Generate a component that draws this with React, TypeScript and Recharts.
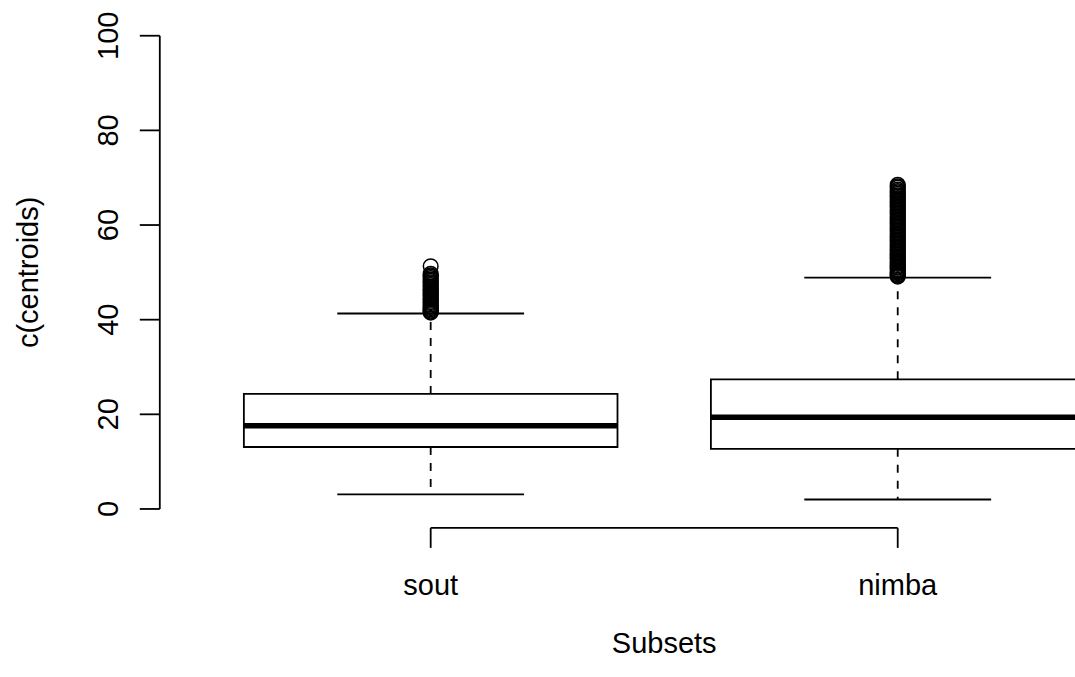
import React from "react";
import {
  ComposedChart,
  XAxis,
  YAxis,
  Scatter,
  ReferenceArea,
  ReferenceLine,
} from "recharts";

// five-number summaries per subset
const subsets = ["sout", "nimba"];
const lowerWhisker = [3.1, 2.0];
const q1 = [13.1, 12.7];
const medians = [17.6, 19.4];
const q3 = [24.3, 27.4];
const upperWhisker = [41.3, 48.9];

// points beyond the upper whisker
const soutOutliers = [
  41.5, 41.7, 41.9, 42.2, 42.4, 42.7, 42.9, 43.2, 43.5, 43.7, 44.0, 44.3,
  44.5, 44.8, 45.1, 45.3, 45.6, 45.9, 46.2, 46.4, 46.7, 47.0, 47.3, 47.6,
  47.9, 48.2, 48.5, 48.8, 49.1, 49.4, 49.7, 51.3,
];
const nimbaOutliers = [
  49.1, 49.3, 49.5, 49.8, 50.0, 50.2, 50.5, 50.7, 51.0, 51.2, 51.5, 51.8,
  52.0, 52.3, 52.6, 52.9, 53.1, 53.4, 53.7, 54.0, 54.3, 54.6, 54.9, 55.2,
  55.5, 55.8, 56.1, 56.4, 56.7, 57.0, 57.3, 57.6, 57.9, 58.2, 58.5, 58.8,
  59.1, 59.4, 59.7, 60.0, 60.3, 60.6, 60.9, 61.2, 61.5, 61.8, 62.1, 62.4,
  62.7, 63.0, 63.3, 63.6, 63.9, 64.2, 64.5, 64.8, 65.1, 65.4, 65.7, 66.0,
  66.3, 66.6, 66.9, 67.2, 67.5, 67.9, 68.2, 68.5,
];
const outliers = [soutOutliers, nimbaOutliers];

const yTicks = [0, 20, 40, 60, 80, 100];

const FONT = "'Liberation Sans', Arial, Helvetica, sans-serif";
const FONT_SIZE = 29;
const LW = 1.8;
const BOX_HALF = 0.4;
const CAP_HALF = 0.2;

// x positions 1..n like base R boxplot, with its 4% padding
const positions = subsets.map((_, i) => i + 1);
const xDomain: [number, number] = [0.42, subsets.length + 0.58];

const outlierData = outliers.map((vals, i) =>
  vals.map((v) => ({ x: positions[i], y: v }))
);

const OpenCircle = (props: any) => {
  const { cx, cy } = props;
  if (cx == null || cy == null) return <g />;
  return <circle cx={cx} cy={cy} r={7.3} fill="none" stroke="#000" strokeWidth={1.5} />;
};

const XTick = (props: any) => {
  const { x, y, payload } = props;
  return (
    <text x={x} y={y + 45} textAnchor="middle" fontFamily={FONT} fontSize={FONT_SIZE} fill="#000">
      {subsets[payload.value - 1]}
    </text>
  );
};

const YTick = (props: any) => {
  const { x, y, payload } = props;
  const bx = x - 20;
  return (
    <text
      x={bx}
      y={y}
      transform={`rotate(-90 ${bx} ${y})`}
      textAnchor="middle"
      fontFamily={FONT}
      fontSize={FONT_SIZE}
      fill="#000"
    >
      {payload.value}
    </text>
  );
};

const YTitle = (props: any) => {
  const { viewBox } = props;
  const cx = 38;
  const cy = viewBox.y + viewBox.height / 2;
  return (
    <text
      x={cx}
      y={cy}
      transform={`rotate(-90 ${cx} ${cy})`}
      textAnchor="middle"
      fontFamily={FONT}
      fontSize={FONT_SIZE}
      fill="#000"
    >
      c(centroids)
    </text>
  );
};

const XTitle = (props: any) => {
  const { viewBox } = props;
  return (
    <text
      x={viewBox.x + viewBox.width / 2}
      y={653}
      textAnchor="middle"
      fontFamily={FONT}
      fontSize={FONT_SIZE}
      fill="#000"
    >
      Subsets
    </text>
  );
};

export default function App() {
  return (
    <div
      style={{
        position: "fixed",
        left: 0,
        top: 0,
        width: 1075,
        height: 677,
        overflow: "hidden",
        background: "#fff",
      }}
    >
      <ComposedChart
        width={1180}
        height={677}
        margin={{ top: 16.8, right: 11.4, bottom: 0, left: 0 }}
      >
        <XAxis
          type="number"
          dataKey="x"
          domain={xDomain}
          ticks={positions}
          allowDataOverflow
          axisLine={false}
          tickSize={20}
          tickLine={{ stroke: "#000", strokeWidth: LW }}
          tick={<XTick />}
          height={149.1}
          label={<XTitle />}
        />
        <YAxis
          type="number"
          dataKey="y"
          domain={[-4, 104]}
          ticks={yTicks}
          allowDataOverflow
          axisLine={false}
          tickSize={20}
          tickLine={{ stroke: "#000", strokeWidth: LW }}
          tick={<YTick />}
          width={159.8}
          label={<YTitle />}
        />

        {/* axis lines span only the tick range, as in base graphics */}
        <ReferenceLine
          segment={[
            { x: xDomain[0], y: yTicks[0] },
            { x: xDomain[0], y: yTicks[yTicks.length - 1] },
          ]}
          stroke="#000"
          strokeWidth={LW}
          ifOverflow="visible"
        />
        <ReferenceLine
          segment={[
            { x: positions[0], y: -4 },
            { x: positions[positions.length - 1], y: -4 },
          ]}
          stroke="#000"
          strokeWidth={LW}
          ifOverflow="visible"
        />

        {positions.map((p, i) => (
          <ReferenceLine
            key={`wu${i}`}
            segment={[
              { x: p, y: q3[i] },
              { x: p, y: upperWhisker[i] },
            ]}
            stroke="#000"
            strokeWidth={LW}
            strokeDasharray="8 8"
            ifOverflow="visible"
          />
        ))}
        {positions.map((p, i) => (
          <ReferenceLine
            key={`wl${i}`}
            segment={[
              { x: p, y: q1[i] },
              { x: p, y: lowerWhisker[i] },
            ]}
            stroke="#000"
            strokeWidth={LW}
            strokeDasharray="8 8"
            ifOverflow="visible"
          />
        ))}
        {positions.map((p, i) => (
          <ReferenceLine
            key={`cu${i}`}
            segment={[
              { x: p - CAP_HALF, y: upperWhisker[i] },
              { x: p + CAP_HALF, y: upperWhisker[i] },
            ]}
            stroke="#000"
            strokeWidth={LW}
            ifOverflow="visible"
          />
        ))}
        {positions.map((p, i) => (
          <ReferenceLine
            key={`cl${i}`}
            segment={[
              { x: p - CAP_HALF, y: lowerWhisker[i] },
              { x: p + CAP_HALF, y: lowerWhisker[i] },
            ]}
            stroke="#000"
            strokeWidth={LW}
            ifOverflow="visible"
          />
        ))}

        {positions.map((p, i) => (
          <ReferenceArea
            key={`box${i}`}
            x1={p - BOX_HALF}
            x2={p + BOX_HALF}
            y1={q1[i]}
            y2={q3[i]}
            fill="#fff"
            fillOpacity={1}
            stroke="#000"
            strokeWidth={LW}
            ifOverflow="visible"
          />
        ))}
        {positions.map((p, i) => (
          <ReferenceLine
            key={`med${i}`}
            segment={[
              { x: p - BOX_HALF, y: medians[i] },
              { x: p + BOX_HALF, y: medians[i] },
            ]}
            stroke="#000"
            strokeWidth={5.5}
            ifOverflow="visible"
          />
        ))}

        {outlierData.map((d, i) => (
          <Scatter
            key={`out${i}`}
            data={d}
            dataKey="y"
            shape={<OpenCircle />}
            isAnimationActive={false}
          />
        ))}
      </ComposedChart>
    </div>
  );
}
